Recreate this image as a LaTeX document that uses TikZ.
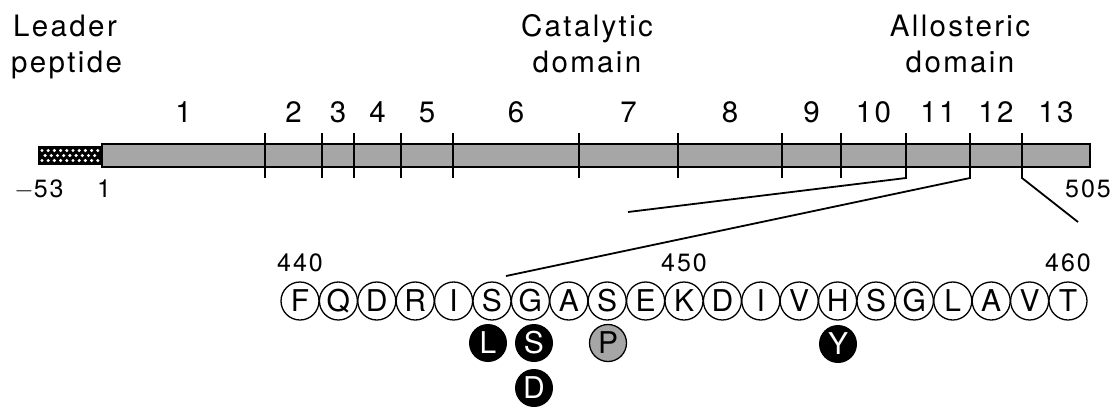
\documentclass[tikz,border=0pt]{standalone}
\usepackage{fontspec}
\setmainfont{TeX Gyre Heros}
\newfontfamily\spfont{TeX Gyre Heros}[LetterSpace=8]
\definecolor{barg}{RGB}{166,166,166}
\begin{document}
\begin{tikzpicture}[x=1pt,y=-1pt,
  lab/.style={font=\spfont\fontsize{29.5}{35}\selectfont, inner sep=0},
  num/.style={font=\spfont\fontsize{25}{29}\selectfont, inner sep=0},
  res/.style={circle, draw, line width=1.3pt, minimum size=38pt, inner sep=0, fill=white, font=\fontsize{30}{32}\selectfont},
  mutb/.style={circle, fill=black, minimum size=38pt, inner sep=0, text=white, font=\fontsize{30}{32}\selectfont},
  mutg/.style={circle, draw, line width=1.3pt, fill=barg, minimum size=37pt, inner sep=0, font=\fontsize{30}{32}\selectfont},
  tickline/.style={line width=2pt},
  link/.style={line width=1.8pt, line join=miter}
]
\useasboundingbox (0,0) rectangle (1120,408);

% headings
\node[lab, anchor=base west] (lead1) at (13,36) {Leader};
\node[lab, anchor=base west] (lead2) at (11,72) {peptide};
\node[lab, anchor=base] (cat1) at (587,36) {Catalytic};
\node[lab, anchor=base] (cat2) at (587,72) {domain};
\node[lab, anchor=base] (all1) at (960,36) {Allosteric};
\node[lab, anchor=base] (all2) at (960,72) {domain};

% leader peptide (hatched)
\fill[black] (38,146) rectangle (102,165);
\foreach \k in {0,...,9} {
  \fill[white] (42+6.2*\k,150.5) circle (1.7);
  \fill[white] (42+6.2*\k,160.5) circle (1.7);
}
\foreach \k in {0,...,8} {
  \fill[white] (45.1+6.2*\k,155.5) circle (1.7);
}
% main bar
\draw[line width=2pt, fill=barg] (102,143.5) rectangle (1090,167);

% ticks
\foreach \x [count=\i] in {265,322,354,401,453,579,678,782,841} {
  \coordinate (t\i) at (\x,133);
  \coordinate (b\i) at (\x,178);
  \draw[tickline] (t\i) -- (b\i);
}
\coordinate (t10) at (906,133); \coordinate (b10) at (906,178);
\coordinate (t11) at (970,133); \coordinate (b11) at (970,178);
\coordinate (t12) at (1022,133); \coordinate (b12) at (1022,178);

% exon numbers
\foreach \x/\n in {183.5/1,293.5/2,338/3,377.5/4,427/5,516/6,628.5/7,730/8,811.5/9,873.5/10,938/11,996/12,1056/13} {
  \node[lab, anchor=base] (e\n) at (\x,122) {\n};
}

% end labels
\node[num, anchor=base] (m53) at (39,197) {$-$53};
\node[num, anchor=base] (one) at (104,197) {1};
\node[num, anchor=base] (n505) at (1088,197) {505};

% residues
\foreach \l [count=\i from 0] in {F,Q,D,R,I,S,G,A,S,E,K,D,I,V,H,S,G,L,A,V,T} {
  \node[res] (r\i) at (300+38.4*\i,301) {\l};
}
\coordinate (h) at (0,271.5);
\node[num, anchor=base] (n440) at (r0 |- h) {440};
\node[num, anchor=base] (n450) at (r10 |- h) {450};
\node[num, anchor=base] (n460) at (r20 |- h) {460};

% connectors
\coordinate (c10) at (628,212);
\coordinate (c11) at (506,276);
\coordinate (c12) at (1078,222);
\draw[link] (t10) -- (b10) -- (c10);
\draw[link] (t11) -- (b11) -- (c11);
\draw[link] (t12) -- (b12) -- (c12);

% mutations
\node[mutb] (mL) at (488,343) {L};
\node[mutb] (mS) at (534,343) {S};
\node[mutb] (mD) at (534,388) {D};
\node[mutg] (mP) at (608,343) {P};
\node[mutb] (mY) at (838,344) {Y};
\end{tikzpicture}
\end{document}
